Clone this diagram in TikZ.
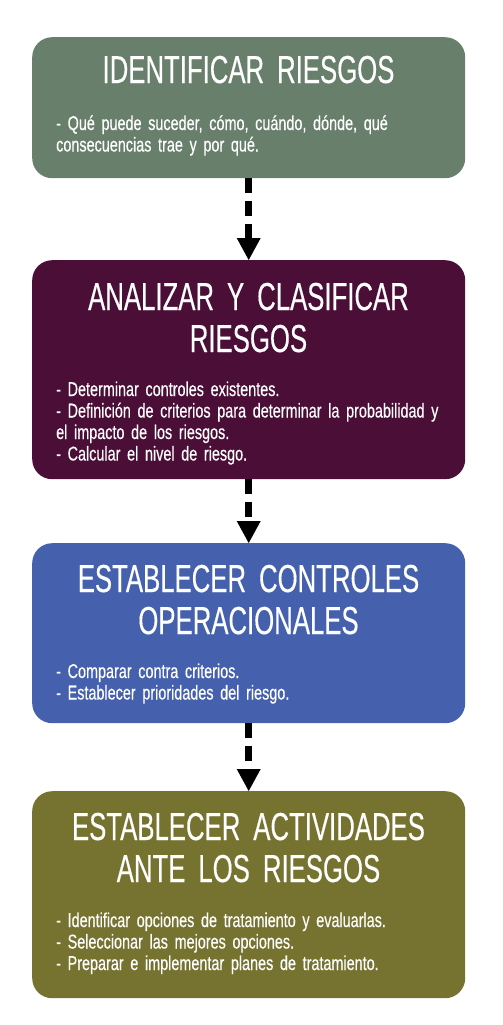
\documentclass[tikz,border=0pt]{standalone}
\usepackage{fontspec}
\setmainfont{Liberation Sans}
\newfontfamily\titlefont[FakeStretch=0.66,FakeBold=0.35]{Liberation Sans}
\newfontfamily\bodyfont[FakeStretch=0.72,FakeBold=0.35]{Liberation Sans}
\DeclareRobustCommand\titlestyle{\titlefont\fontsize{39}{42}\selectfont\spaceskip=6pt\relax}
\DeclareRobustCommand\bodystyle{\bodyfont\fontsize{20}{21.5}\selectfont\spaceskip=3.4pt\relax}
\usetikzlibrary{arrows.meta}
\definecolor{cA}{HTML}{68806B}
\definecolor{cB}{HTML}{4A0E37}
\definecolor{cC}{HTML}{4560AD}
\definecolor{cD}{HTML}{767331}
\tikzset{
  stagebox/.style={rounded corners=20pt, draw=none, minimum width=433pt, anchor=north west, inner sep=0pt},
  titletext/.style={font=\titlestyle, text=white, text width=433pt, align=center, inner sep=0pt, anchor=base},
  bodytext/.style={font=\bodystyle, text=white, text width=410pt, align=left, inner sep=0pt, anchor=base west},
  flow/.style={line width=6.5pt, dash pattern=on 15pt off 8pt, -{Triangle[width=24pt,length=22pt,line width=0pt]}}
}
\begin{document}
\begin{tikzpicture}[x=1pt,y=-1pt]
\useasboundingbox (0,0) rectangle (503,1025);
\fill[white] (0,0) rectangle (503,1025);
% boxes
\node[stagebox, fill=cA, minimum height=141pt] (b1) at (32,37) {};
\node[stagebox, fill=cB, minimum height=219pt] (b2) at (32,260) {};
\node[stagebox, fill=cC, minimum height=180pt] (b3) at (32,543) {};
\node[stagebox, fill=cD, minimum height=207pt] (b4) at (32,791) {};
% titles
\node[titletext] (t1) at (248.5,83) {IDENTIFICAR RIESGOS};
\node[titletext] (t2) at (248.5,310) {ANALIZAR Y CLASIFICAR\\RIESGOS};
\node[titletext] (t3) at (248.5,592) {ESTABLECER CONTROLES\\OPERACIONALES};
\node[titletext] (t4) at (248.5,840) {ESTABLECER ACTIVIDADES\\ANTE LOS RIESGOS};
% bodies
\node[bodytext] (d1) at (56,130) {- Qué puede suceder, cómo, cuándo, dónde, qué\\consecuencias trae y por qué.};
\node[bodytext] (d2) at (56,396) {- Determinar controles existentes.\\- Definición de criterios para determinar la probabilidad y\\el impacto de los riesgos.\\- Calcular el nivel de riesgo.};
\node[bodytext] (d3) at (56,678) {- Comparar contra criterios.\\- Establecer prioridades del riesgo.};
\node[bodytext] (d4) at (56,927) {- Identificar opciones de tratamiento y evaluarlas.\\- Seleccionar las mejores opciones.\\- Preparar e implementar planes de tratamiento.};
% connectors
\draw[flow] (b1.south) -- (b2.north);
\draw[flow] (b2.south) -- (b3.north);
\draw[flow] (b3.south) -- (b4.north);
\end{tikzpicture}
\end{document}
